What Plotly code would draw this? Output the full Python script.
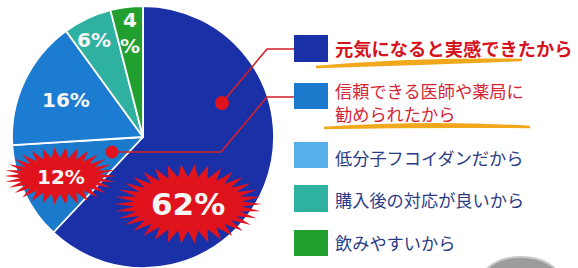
import math
import plotly.graph_objects as go

# ---- data ----
reasons = ["元気になると実感できたから", "信頼できる医師や薬局に<br>勧められたから",
           "低分子フコイダンだから", "購入後の対応が良いから", "飲みやすいから"]
shares = [62, 12, 16, 6, 4]
slice_colors = ["#1a30a6", "#1b7acc", "#1c7cd1", "#2fb1a1", "#21a02f"]
swatch_colors = ["#1a30a6", "#1b7acc", "#56aeea", "#2fb1a1", "#21a02f"]
text_colors = ["#d5131d", "#d52535", "#2b3b85", "#2b3b85", "#2b3b85"]

W, H = 578, 268
CX, CY, R = 143, 137, 131

fig = go.Figure()

fig.add_trace(go.Pie(
    values=shares, labels=[r.replace("<br>", "") for r in reasons],
    sort=False, direction="clockwise", rotation=0,
    marker=dict(colors=slice_colors, line=dict(color="white", width=1.8)),
    textinfo="none", hoverinfo="label+percent", showlegend=False,
    domain=dict(x=[(CX - R) / W, (CX + R) / W], y=[(H - CY - R) / H, (H - CY + R) / H]),
))

# invisible overlay axes in pixel units
fig.add_trace(go.Scatter(x=[0, W], y=[0, H], mode="markers", marker=dict(opacity=0),
                         hoverinfo="skip", showlegend=False))

shapes = []
annotations = []


def burst(cx, cy, rxi, ryi, rxo, ryo, n):
    pts = []
    for k in range(2 * n):
        a = math.pi * k / n
        if k % 2 == 0:
            rx, ry = rxo, ryo
        else:
            rx, ry = rxi, ryi
        pts.append((cx + rx * math.cos(a), cy + ry * math.sin(a)))
    return "M " + " L ".join(f"{x:.1f},{y:.1f}" for x, y in pts) + " Z"


RED = "#e0121c"
shapes.append(dict(type="path", xref="x", yref="y", layer="above",
                   path=burst(188, 204, 54, 27, 74, 40, 34), fillcolor=RED, line=dict(width=0)))
shapes.append(dict(type="path", xref="x", yref="y", layer="above",
                   path=burst(60, 176, 40, 18, 56, 29, 30), fillcolor=RED, line=dict(width=0)))

# callout lines
LINE = "#d3202a"
shapes.append(dict(type="path", xref="x", yref="y", layer="above",
                   path="M 222,103 L 267,49 L 298,49", line=dict(color=LINE, width=1.6)))
shapes.append(dict(type="path", xref="x", yref="y", layer="above",
                   path="M 112,152 L 221,152 L 267,97 L 298,97", line=dict(color=LINE, width=1.6)))
shapes.append(dict(type="circle", xref="x", yref="y", layer="above",
                   x0=215, x1=229, y0=96, y1=110, fillcolor=RED, line=dict(width=0)))
shapes.append(dict(type="circle", xref="x", yref="y", layer="above",
                   x0=105.5, x1=118.5, y0=145.5, y1=158.5, fillcolor=RED, line=dict(width=0)))

# yellow brush underlines
YEL = "#f2a81c"
shapes.append(dict(type="path", xref="x", yref="y", layer="above",
                   path="M 316,67 Q 420,58 522,60 Q 420,64 316,67 Z",
                   fillcolor=YEL, line=dict(color=YEL, width=2.5)))
shapes.append(dict(type="path", xref="x", yref="y", layer="above",
                   path="M 324,128 Q 430,121 530,127 Q 430,126 324,128 Z",
                   fillcolor=YEL, line=dict(color=YEL, width=2.5)))

# grey blob bottom right
shapes.append(dict(type="circle", xref="x", yref="y", layer="above",
                   x0=483, x1=559, y0=257, y1=300, fillcolor="#9c9c9c", line=dict(color="#c8c8c8", width=2)))

# legend
sw_top = [35, 83, 142, 185, 230]
sw_h = [27, 26, 26, 27, 26]
txt_y = [48, 90.5, 157, 199, 242]
LINE_GAP = 23
for i in range(len(reasons)):
    shapes.append(dict(type="rect", xref="x", yref="y", layer="above",
                       x0=294, x1=328, y0=sw_top[i], y1=sw_top[i] + sw_h[i],
                       fillcolor=swatch_colors[i], line=dict(width=0)))
    bold = i == 0
    for k, part in enumerate(reasons[i].split("<br>")):
        annotations.append(dict(
            x=334, y=txt_y[i] + k * LINE_GAP, xref="x", yref="y", xanchor="left", yanchor="middle",
            align="left", showarrow=False, borderpad=0,
            text=(f"<b>{part}</b>" if bold else part),
            font=dict(family="Noto Sans CJK JP", size=18.3 if bold else 17.2, color=text_colors[i]),
        ))

# percentage labels
lab_pos = [(188, 204, 31), (61, 177, 20), (66, 100, 20), (94, 40, 20), (130, 33, 20)]
for j, v in enumerate(shares):
    x, y, s = lab_pos[j]
    t = f"{v}%" if v >= 5 else f"{v}<br>%"
    annotations.append(dict(
        x=x, y=y, xref="x", yref="y", xanchor="center", yanchor="middle",
        showarrow=False, text=f"<b>{t}</b>",
        font=dict(family="DejaVu Sans", size=s, color="#f6f6f6"),
    ))

fig.update_layout(
    width=W, height=H, margin=dict(l=0, r=0, t=0, b=0),
    paper_bgcolor="white", plot_bgcolor="rgba(0,0,0,0)",
    xaxis=dict(range=[0, W], visible=False, fixedrange=True, domain=[0, 1]),
    yaxis=dict(range=[H, 0], visible=False, fixedrange=True, domain=[0, 1]),
    shapes=shapes, annotations=annotations, showlegend=False,
)

fig.write_html("out.html", config={"displayModeBar": False},
               post_script="document.body.style.margin='0';document.body.style.overflow='hidden';")
